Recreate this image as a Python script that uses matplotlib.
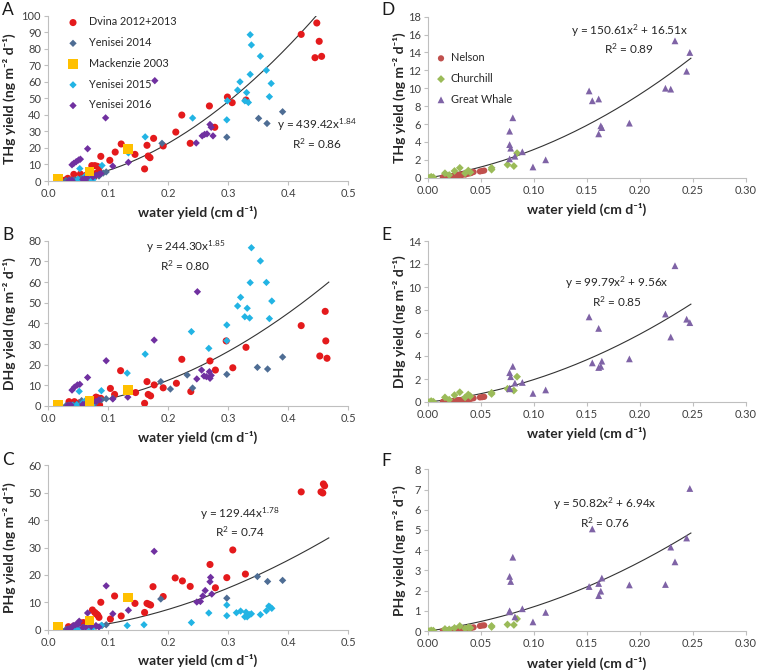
import numpy as np
import matplotlib.pyplot as plt
from matplotlib.ticker import FormatStrFormatter, MultipleLocator

plt.rcParams['font.family'] = ['Lato', 'DejaVu Sans']
plt.rcParams['mathtext.fontset'] = 'custom'
plt.rcParams['mathtext.rm'] = 'Lato'
plt.rcParams['mathtext.it'] = 'Lato:italic'
plt.rcParams['mathtext.bf'] = 'Lato:bold'

# ---------------- Eurasian / Mackenzie rivers (panels A-C) ----------------
dvina_a_x = [0.028, 0.033, 0.043, 0.054, 0.063, 0.064, 0.073, 0.077, 0.078, 0.080, 0.082, 0.085, 0.086,
             0.088, 0.103, 0.112, 0.122, 0.145, 0.161, 0.165, 0.167, 0.170, 0.176, 0.192, 0.213, 0.223,
             0.237, 0.269, 0.278, 0.299, 0.307, 0.330, 0.422, 0.445, 0.448, 0.452, 0.456]
dvina_a_y = [0.5, 1.6, 4.0, 4.2, 0.2, 3.6, 9.3, 2.6, 9.3, 4.6, 8.9, 8.1, 5.0,
             14.9, 12.5, 17.5, 22.4, 16.1, 7.3, 21.6, 15.1, 14.1, 25.8, 21.2, 29.6, 39.9,
             22.8, 45.4, 32.5, 50.8, 47.4, 49.0, 88.7, 74.6, 95.6, 84.5, 75.4]
yen14_a_x = [0.030, 0.035, 0.040, 0.045, 0.050, 0.055, 0.060, 0.065, 0.070, 0.075, 0.085, 0.092, 0.097,
             0.190, 0.298, 0.351, 0.365, 0.391]
yen14_a_y = [0.3, 0.5, 0.2, 0.8, 1.0, 1.5, 2.0, 1.2, 2.5, 1.8, 3.0, 4.8, 5.5,
             22.8, 26.5, 37.9, 34.8, 41.9]
mack_a_x = [0.017, 0.069, 0.133]
mack_a_y = [1.6, 5.8, 19.2]
yen15_a_x = [0.040, 0.050, 0.053, 0.062, 0.071, 0.075, 0.090, 0.134, 0.162, 0.241, 0.298, 0.299,
             0.316, 0.320, 0.328, 0.331, 0.334, 0.337, 0.337, 0.339, 0.354, 0.364, 0.369, 0.372]
yen15_a_y = [0.5, 1.0, 7.5, 3.0, 1.5, 0.8, 9.4, 17.0, 26.7, 38.1, 37.0, 48.5,
             55.0, 60.0, 48.5, 53.5, 47.5, 64.5, 88.5, 82.3, 75.5, 67.0, 51.0, 59.0]
yen16_a_x = [0.035, 0.040, 0.040, 0.043, 0.047, 0.051, 0.054, 0.058, 0.062, 0.065, 0.066, 0.075, 0.080,
             0.085, 0.088, 0.096, 0.108, 0.134, 0.178, 0.247, 0.257, 0.261, 0.265, 0.270, 0.272, 0.275]
yen16_a_y = [0.3, 0.5, 9.8, 10.7, 11.7, 12.7, 13.2, 1.0, 1.5, 2.0, 19.5, 2.5, 3.5,
             4.0, 4.5, 38.2, 9.0, 11.3, 60.7, 23.0, 27.3, 28.2, 28.5, 34.2, 32.5, 27.3]

dvina_b_x = [0.035, 0.044, 0.053, 0.061, 0.067, 0.078, 0.080, 0.083, 0.086, 0.088, 0.104, 0.111, 0.121,
             0.146, 0.161, 0.165, 0.167, 0.171, 0.177, 0.192, 0.214, 0.223, 0.238, 0.270, 0.279, 0.297,
             0.308, 0.330, 0.422, 0.453, 0.462, 0.463, 0.465]
dvina_b_y = [2.1, 2.1, 1.6, 1.1, 0.5, 3.5, 4.3, 3.9, 0.5, 3.7, 8.5, 5.6, 17.1,
             6.5, 1.3, 11.8, 5.6, 4.9, 10.2, 8.8, 11.0, 22.6, 7.0, 21.8, 17.4, 31.5,
             18.5, 28.4, 38.9, 24.2, 45.8, 31.5, 23.1]
yen14_b_x = [0.030, 0.035, 0.042, 0.048, 0.056, 0.062, 0.070, 0.078, 0.089, 0.097, 0.108, 0.188, 0.204,
             0.232, 0.241, 0.298, 0.349, 0.366, 0.391]
yen14_b_y = [0.2, 0.4, 0.5, 0.8, 2.6, 1.5, 1.8, 1.2, 3.0, 3.5, 3.7, 11.8, 8.2,
             15.0, 8.7, 15.3, 18.7, 17.9, 23.7]
mack_b_x = [0.017, 0.069, 0.133]
mack_b_y = [0.8, 2.3, 7.6]
yen15_b_x = [0.040, 0.048, 0.052, 0.058, 0.062, 0.070, 0.075, 0.089, 0.132, 0.162, 0.239, 0.268, 0.298,
             0.298, 0.316, 0.321, 0.328, 0.332, 0.336, 0.337, 0.339, 0.354, 0.364, 0.369, 0.373]
yen15_b_y = [0.3, 0.6, 7.1, 1.5, 2.5, 0.5, 1.0, 7.4, 15.9, 25.1, 36.0, 27.9, 31.6,
             39.2, 48.4, 52.6, 43.2, 47.3, 42.6, 59.7, 76.6, 70.2, 59.8, 42.3, 50.8]
yen16_b_x = [0.033, 0.038, 0.040, 0.044, 0.049, 0.053, 0.058, 0.063, 0.066, 0.070, 0.075, 0.080, 0.085,
             0.097, 0.108, 0.133, 0.177, 0.248, 0.249, 0.256, 0.260, 0.264, 0.269, 0.270, 0.272]
yen16_b_y = [0.2, 0.5, 7.7, 9.1, 10.2, 10.5, 0.8, 1.2, 13.8, 1.5, 2.0, 2.2, 3.0,
             21.9, 3.4, 4.3, 31.9, 13.1, 55.3, 17.4, 14.5, 14.2, 16.6, 13.4, 14.8]

dvina_c_x = [0.034, 0.043, 0.053, 0.059, 0.074, 0.078, 0.081, 0.083, 0.085, 0.088, 0.104, 0.111, 0.122,
             0.145, 0.161, 0.165, 0.168, 0.171, 0.175, 0.192, 0.212, 0.224, 0.237, 0.270, 0.279, 0.298,
             0.308, 0.329, 0.422, 0.455, 0.458, 0.459, 0.461]
dvina_c_y = [1.1, 1.3, 2.6, 2.6, 7.2, 6.3, 5.7, 5.3, 4.5, 10.0, 3.9, 12.3, 5.0,
             9.6, 6.3, 9.6, 9.3, 9.0, 15.7, 12.1, 18.9, 17.8, 15.8, 23.8, 15.3, 19.0,
             29.1, 20.3, 50.3, 50.3, 49.9, 53.2, 52.5]
yen14_c_x = [0.030, 0.035, 0.042, 0.050, 0.060, 0.070, 0.080, 0.090, 0.097, 0.188, 0.298, 0.349, 0.366, 0.391]
yen14_c_y = [0.1, 0.3, 0.4, 0.6, 0.8, 1.0, 1.2, 1.5, 1.8, 11.2, 11.5, 19.4, 17.6, 18.0]
mack_c_x = [0.017, 0.069, 0.133]
mack_c_y = [1.0, 3.3, 11.8]
yen15_c_x = [0.040, 0.050, 0.058, 0.070, 0.075, 0.089, 0.132, 0.160, 0.239, 0.268, 0.298, 0.298,
             0.314, 0.321, 0.328, 0.330, 0.332, 0.336, 0.339, 0.354, 0.364, 0.368, 0.370, 0.373]
yen15_c_y = [0.2, 0.4, 0.6, 0.3, 0.8, 1.6, 1.5, 1.8, 2.6, 6.1, 5.1, 9.0,
             6.2, 6.8, 4.7, 6.4, 4.7, 5.5, 5.8, 5.5, 6.9, 8.6, 8.3, 7.8]
yen16_c_x = [0.033, 0.038, 0.042, 0.046, 0.050, 0.052, 0.058, 0.063, 0.066, 0.072, 0.080, 0.085,
             0.097, 0.108, 0.134, 0.177, 0.248, 0.254, 0.258, 0.262, 0.270, 0.271, 0.273]
yen16_c_y = [0.2, 0.5, 1.5, 1.8, 2.0, 3.1, 0.8, 1.0, 6.1, 1.2, 1.5, 1.0,
             16.0, 5.8, 7.1, 28.6, 10.1, 10.3, 12.3, 14.3, 17.5, 19.1, 13.0]

# ---------------- Hudson Bay rivers (panels D-F) ----------------
nelson_x = [0.014, 0.016, 0.018, 0.021, 0.024, 0.027, 0.029, 0.030, 0.032, 0.033, 0.035, 0.036, 0.038,
            0.040, 0.041, 0.043, 0.049, 0.051, 0.053]
nelson_d_y = [0.05, 0.1, 0.1, 0.15, 0.2, 0.27, 0.3, 0.34, 0.3, 0.4, 0.35, 0.4, 0.45,
              0.5, 0.55, 0.64, 0.7, 0.75, 0.8]
nelson_e_y = [0.02, 0.05, 0.06, 0.08, 0.1, 0.13, 0.15, 0.17, 0.16, 0.2, 0.18, 0.22, 0.25,
              0.28, 0.3, 0.33, 0.4, 0.42, 0.45]
nelson_f_y = [0.01, 0.02, 0.03, 0.04, 0.05, 0.07, 0.08, 0.09, 0.08, 0.1, 0.1, 0.12, 0.13,
              0.15, 0.16, 0.18, 0.25, 0.27, 0.28]
churchill_x = [0.001, 0.003, 0.005, 0.016, 0.020, 0.025, 0.030, 0.035, 0.038, 0.040, 0.060, 0.060,
               0.075, 0.081, 0.084]
churchill_d_y = [0.0, 0.1, 0.05, 0.5, 0.3, 0.75, 1.1, 0.5, 0.8, 0.6, 0.9, 1.1, 1.45, 1.3, 2.75]
churchill_e_y = [0.0, 0.08, 0.03, 0.4, 0.2, 0.6, 0.85, 0.4, 0.65, 0.5, 0.7, 0.8, 1.15, 1.0, 2.2]
churchill_f_y = [0.0, 0.03, 0.02, 0.1, 0.08, 0.15, 0.25, 0.12, 0.18, 0.15, 0.2, 0.25, 0.32, 0.3, 0.6]
gw_x = [0.077, 0.077, 0.078, 0.077, 0.080, 0.082, 0.089, 0.099, 0.111, 0.152, 0.155, 0.161, 0.161,
        0.163, 0.164, 0.190, 0.224, 0.229, 0.233, 0.244, 0.247]
gw_d_y = [5.2, 3.7, 3.3, 2.1, 6.7, 2.4, 2.9, 1.2, 2.0, 9.7, 8.6, 8.8, 4.9,
          5.8, 5.6, 6.1, 10.0, 9.9, 15.3, 11.9, 14.0]
gw_e_y = [2.55, 1.15, 2.2, 1.2, 3.1, 1.65, 1.7, 0.75, 1.05, 7.4, 3.4, 6.4, 3.0,
          3.1, 3.55, 3.75, 7.65, 5.65, 11.85, 7.2, 6.9]
gw_f_y = [2.7, 0.95, 2.45, 1.0, 3.65, 0.7, 1.1, 0.45, 0.92, 2.2, 5.05, 2.35, 1.75,
          1.97, 2.62, 2.28, 2.3, 4.15, 3.42, 4.6, 7.05]

# fitted trend lines (coefficients printed on the chart)
power_fits = {'A': (439.42, 1.84), 'B': (244.30, 1.85), 'C': (129.44, 1.78)}
quad_fits = {'D': (150.61, 16.51), 'E': (99.79, 9.56), 'F': (50.82, 6.94)}
r2 = {'A': 0.86, 'B': 0.80, 'C': 0.74, 'D': 0.89, 'E': 0.85, 'F': 0.76}

C_DVINA = '#E41A1C'
C_Y14 = '#4E6D94'
C_MACK = '#FFC000'
C_Y15 = '#22B4E4'
C_Y16 = '#7030A0'
C_NELSON = '#C0504D'
C_CHURCH = '#9BBB59'
C_GW = '#7F63A6'
AX_GREY = '#BFBFBF'
TXT = '#262626'

fig = plt.figure(figsize=(7.57, 6.70), dpi=100)


def px_axes(left, top, right, bottom):
    return fig.add_axes([left / 757, 1 - bottom / 670, (right - left) / 757, (bottom - top) / 670])


def style(ax, xmax, xstep, xfmt, ymax, ystep, ylabel, xlab_y, ylab_x):
    ax.set_xlim(0, xmax)
    ax.set_ylim(0, ymax)
    ax.xaxis.set_major_locator(MultipleLocator(xstep))
    ax.yaxis.set_major_locator(MultipleLocator(ystep))
    ax.xaxis.set_major_formatter(FormatStrFormatter(xfmt))
    ax.yaxis.set_major_formatter(FormatStrFormatter('%d'))
    for s in ('top', 'right'):
        ax.spines[s].set_visible(False)
    for s in ('left', 'bottom'):
        ax.spines[s].set_color(AX_GREY)
        ax.spines[s].set_linewidth(0.8)
    ax.tick_params(axis='both', colors=AX_GREY, labelcolor='#404040', labelsize=8,
                   length=3, width=0.8, pad=2)
    ax.set_xlabel('water yield (cm d⁻¹)', fontsize=10, fontweight='bold', color=TXT)
    ax.set_ylabel(ylabel, fontsize=10, fontweight='bold', color=TXT)
    ax.xaxis.set_label_coords(0.5, xlab_y)
    ax.yaxis.set_label_coords(ylab_x, 0.5)


def plot_eurasia(ax, key, series, ymax, ylabel, eq_xy, legend=False):
    (dx, dy), (y14x, y14y), (mx, my), (y15x, y15y), (y16x, y16y) = series
    ax.scatter(dx, dy, s=26, marker='o', color=C_DVINA, edgecolors='none', zorder=3, label='Dvina 2012+2013')
    ax.scatter(y14x, y14y, s=14, marker='D', color=C_Y14, edgecolors='none', zorder=3, label='Yenisei 2014')
    ax.scatter(mx, my, s=48, marker='s', color=C_MACK, edgecolors='none', zorder=4, label='Mackenzie 2003')
    ax.scatter(y15x, y15y, s=14, marker='D', color=C_Y15, edgecolors='none', zorder=3, label='Yenisei 2015')
    ax.scatter(y16x, y16y, s=14, marker='D', color=C_Y16, edgecolors='none', zorder=3, label='Yenisei 2016')
    a, b = power_fits[key]
    xs = np.linspace(0.022, 0.468, 200)
    ax.plot(xs, a * xs ** b, color='#333333', lw=0.8, zorder=2)
    style(ax, 0.5, 0.1, '%.1f', ymax, 10, ylabel, -0.15, -0.107)
    ax.text(eq_xy[0], eq_xy[1], 'y = %.2fx$^{%.2f}$\nR$^{2}$ = %.2f' % (a, b, r2[key]),
            ha='center', va='top', fontsize=8.5, color=TXT, linespacing=1.25)
    if legend:
        ax.legend(loc='upper left', bbox_to_anchor=(0.04, 1.035), frameon=False, fontsize=7.8,
                  handletextpad=0.9, labelspacing=0.9, borderaxespad=0.2, handlelength=1.2,
                  labelcolor=TXT)


def plot_hudson(ax, key, ys, ymax, ystep, ylabel, eq_xy, legend=False):
    ny, cy, gy = ys
    ax.scatter(nelson_x, ny, s=20, marker='o', color=C_NELSON, edgecolors='none', zorder=3, label='Nelson')
    ax.scatter(churchill_x, cy, s=16, marker='D', color=C_CHURCH, edgecolors='none', zorder=3, label='Churchill')
    ax.scatter(gw_x, gy, s=24, marker='^', color=C_GW, edgecolors='none', zorder=3, label='Great Whale')
    a, b = quad_fits[key]
    xs = np.linspace(0.0, 0.248, 200)
    ax.plot(xs, a * xs ** 2 + b * xs, color='#333333', lw=0.8, zorder=2)
    style(ax, 0.30, 0.05, '%.2f', ymax, ystep, ylabel, -0.157, -0.069)
    ax.text(eq_xy[0], eq_xy[1], 'y = %.2fx$^{2}$ + %.2fx\nR$^{2}$ = %.2f' % (a, b, r2[key]),
            ha='center', va='top', fontsize=8.5, color=TXT, linespacing=1.25)
    if legend:
        ax.legend(loc='upper left', bbox_to_anchor=(0.0, 0.82), frameon=False, fontsize=7.8,
                  handletextpad=0.3, labelspacing=0.9, borderaxespad=0.2, handlelength=1.2,
                  labelcolor=TXT)


ax_a = px_axes(48, 15.7, 348, 181)
ax_b = px_axes(48, 240.7, 348, 406)
ax_c = px_axes(48, 465.3, 348, 629.7)
ax_d = px_axes(428, 16.7, 746, 177.7)
ax_e = px_axes(428, 241, 746, 402)
ax_f = px_axes(428, 469.3, 746, 631)

plot_eurasia(ax_a, 'A', [(dvina_a_x, dvina_a_y), (yen14_a_x, yen14_a_y), (mack_a_x, mack_a_y),
                         (yen15_a_x, yen15_a_y), (yen16_a_x, yen16_a_y)],
             100, 'THg yield (ng m⁻² d⁻¹)', (0.448, 39), legend=True)
plot_eurasia(ax_b, 'B', [(dvina_b_x, dvina_b_y), (yen14_b_x, yen14_b_y), (mack_b_x, mack_b_y),
                         (yen15_b_x, yen15_b_y), (yen16_b_x, yen16_b_y)],
             80, 'DHg yield (ng m⁻² d⁻¹)', (0.229, 81))
plot_eurasia(ax_c, 'C', [(dvina_c_x, dvina_c_y), (yen14_c_x, yen14_c_y), (mack_c_x, mack_c_y),
                         (yen15_c_x, yen15_c_y), (yen16_c_x, yen16_c_y)],
             60, 'PHg yield (ng m⁻² d⁻¹)', (0.32, 45.5))
plot_hudson(ax_d, 'D', (nelson_d_y, churchill_d_y, gw_d_y), 18, 2, 'THg yield (ng m⁻² d⁻¹)',
            (0.19, 17.4), legend=True)
plot_hudson(ax_e, 'E', (nelson_e_y, churchill_e_y, gw_e_y), 14, 2, 'DHg yield (ng m⁻² d⁻¹)',
            (0.178, 11.1))
plot_hudson(ax_f, 'F', (nelson_f_y, churchill_f_y, gw_f_y), 8, 1, 'PHg yield (ng m⁻² d⁻¹)',
            (0.167, 6.7))

# panel letters
for letter, (x, y) in zip('ABCDEF', [(2, 2), (2, 227), (2, 452), (381, 2), (381, 227), (381, 453)]):
    fig.text(x / 757, 1 - y / 670, letter, fontsize=12.5, va='top', ha='left', color='#1a1a1a')

fig.savefig('out.png', dpi=100, facecolor='white')
